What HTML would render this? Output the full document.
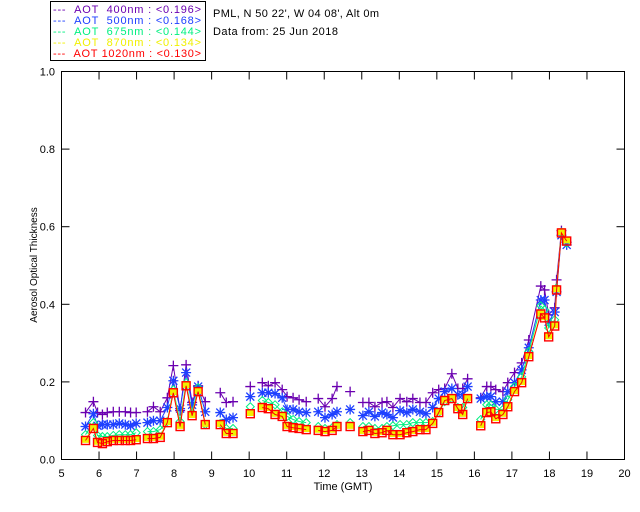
<!DOCTYPE html>
<html><head><meta charset="utf-8"><style>
body{margin:0;background:#fff;}
svg{display:block;font-family:"Liberation Sans",sans-serif;}
</style></head><body>
<svg id="chart" width="640" height="512" viewBox="0 0 640 512">
<g>
<rect x="50.5" y="1.5" width="155" height="59" fill="#fff" stroke="#000"/>
<text x="53" y="13" font-size="11" fill="#6a00b0" textLength="148" lengthAdjust="spacing">--- &#160;AOT &#160;400nm : &lt;0.196&gt;</text>
<text x="53" y="24" font-size="11" fill="#1e40ff" textLength="148" lengthAdjust="spacing">--- &#160;AOT &#160;500nm : &lt;0.168&gt;</text>
<text x="53" y="35" font-size="11" fill="#00f080" textLength="148" lengthAdjust="spacing">--- &#160;AOT &#160;675nm : &lt;0.144&gt;</text>
<text x="53" y="46" font-size="11" fill="#f0f000" textLength="148" lengthAdjust="spacing">--- &#160;AOT &#160;870nm : &lt;0.134&gt;</text>
<text x="53" y="57" font-size="11" fill="#ff0000" textLength="148" lengthAdjust="spacing">--- &#160;AOT 1020nm : &lt;0.130&gt;</text>
</g>
<text x="213" y="17" font-size="11" fill="#000" textLength="166" lengthAdjust="spacing">PML, N 50 22', W 04 08', Alt 0m</text>
<text x="213" y="35" font-size="11" fill="#000" textLength="125" lengthAdjust="spacing">Data from: 25 Jun 2018</text>
<rect x="61.5" y="71.5" width="563" height="388" fill="none" stroke="#000"/>
<text transform="translate(37,265) rotate(-90)" text-anchor="middle" font-size="10" fill="#000">Aerosol Optical Thickness</text>
<text x="343" y="490" text-anchor="middle" font-size="11" fill="#000">Time (GMT)</text>
<g id="axes"></g>
<g id="marks"></g>
</svg>
<script>
const xTicks=[5,6,7,8,9,10,11,12,13,14,15,16,17,18,19,20];
const yTicks=[0.0,0.2,0.4,0.6,0.8,1.0];
const yTickLabels=["0.0","0.2","0.4","0.6","0.8","1.0"];
const times=[5.64,5.85,5.96,6.09,6.22,6.38,6.54,6.70,6.84,6.99,null,
7.29,7.45,7.63,7.82,7.98,8.16,8.32,8.48,8.64,8.83,null,
9.23,9.39,9.57,null,10.03,null,
10.35,10.51,10.69,10.88,11.01,11.17,11.33,11.52,null,
11.84,12.02,12.21,12.34,null,12.69,null,
13.03,13.19,13.35,13.54,13.67,13.83,14.02,14.20,14.36,14.55,14.71,14.89,15.05,15.21,15.40,15.56,15.69,15.82,null,
16.17,16.33,16.44,16.57,16.76,16.89,17.07,17.26,17.45,17.77,17.87,17.98,18.14,18.19,18.32,18.46];
const aot400=[.121,.149,.121,.116,.121,.123,.123,.123,.121,.121,null,
.123,.136,.123,.159,.242,.126,.244,.147,.190,.149,null,
.172,.147,.149,null,.188,null,
.198,.190,.198,.180,.162,.159,.154,.149,null,
.157,.136,.157,.188,null,.175,null,
.147,.147,.136,.147,.149,.134,.157,.149,.157,.147,.147,.172,.180,.183,.221,.183,.183,.208,null,
.159,.188,.188,.180,.175,.198,.224,.249,.308,.447,.437,.373,.391,.463,.590,.560];
const aot500=[.085,.118,.087,.090,.090,.090,.093,.090,.087,.093,null,
.095,.100,.100,.134,.203,.131,.224,.141,.188,.123,null,
.121,.103,.108,null,.162,null,
.172,.172,.170,.159,.129,.129,.123,.121,null,
.123,.108,.116,.123,null,.129,null,
.113,.123,.111,.121,.116,.108,.126,.121,.129,.123,.118,.134,.157,.175,.183,.167,.167,.188,null,
.157,.162,.162,.149,.149,.175,.198,.231,.288,.411,.411,.355,.380,.432,.578,.553];
const aot675=[.064,.095,.062,.059,.059,.062,.064,.064,.064,.069,null,
.072,.072,.077,.098,.180,.098,.198,.121,.185,.090,null,
.093,.080,.080,null,.136,null,
.152,.147,.141,.123,.111,.103,.098,.095,null,
.085,.080,.082,.090,null,.095,null,
.085,.085,.080,.080,.085,.087,.090,.090,.095,.095,.095,.098,.121,.149,.157,.134,.134,.157,null,
.103,.141,.141,.129,.129,.154,.188,.213,.278,.396,.386,.339,.360,.442,.586,.558];
const aot870=[.052,.083,.047,.044,.049,.052,.052,.052,.052,.054,null,
.057,.057,.060,.098,.175,.088,.193,.116,.178,.093,null,
.093,.070,.070,null,.121,null,
.137,.134,.119,.114,.088,.085,.083,.080,null,
.078,.075,.078,.088,null,.088,null,
.075,.078,.070,.072,.078,.067,.067,.072,.075,.080,.080,.096,.124,.155,.160,.134,.119,.160,null,
.090,.124,.126,.108,.119,.139,.178,.201,.268,.378,.368,.319,.347,.440,.587,.566];
const aot1020=[.049,.080,.044,.041,.046,.049,.049,.049,.049,.051,null,
.054,.054,.057,.095,.172,.085,.190,.113,.175,.090,null,
.090,.067,.067,null,.118,null,
.134,.131,.116,.111,.085,.082,.080,.077,null,
.075,.072,.075,.085,null,.085,null,
.072,.075,.067,.069,.075,.064,.064,.069,.072,.077,.077,.093,.121,.152,.157,.131,.116,.157,null,
.087,.121,.123,.105,.116,.136,.175,.198,.265,.375,.365,.316,.344,.437,.584,.563];

const NS="http://www.w3.org/2000/svg";
const X0=61.5,X1=624.5,Y0=459.5,Y1=71.5;
function xs(t){return X0+(t-5)/15*(X1-X0);}
function ys(v){return Y0-v*(Y0-Y1);}
function mk(tag,attrs,parent){const e=document.createElementNS(NS,tag);for(const k in attrs)e.setAttribute(k,attrs[k]);parent.appendChild(e);return e;}
const axes=document.getElementById('axes');
xTicks.forEach((t)=>{
  const x=xs(t);
  const a=mk('line',{x1:x,y1:Y0,x2:x,y2:Y0-8,stroke:'#000'},axes);
  
  
  const b=mk('line',{x1:x,y1:Y1,x2:x,y2:Y1+8,stroke:'#000'},axes);
  
  
  const l=mk('text',{x:x,y:477,'text-anchor':'middle','font-size':11},axes);
  l.textContent=String(t);
  
  
});
yTicks.forEach((v,i)=>{
  const y=ys(v);
  const a=mk('line',{x1:X0,y1:y,x2:X0+8,y2:y,stroke:'#000'},axes);
  
  
  const b=mk('line',{x1:X1,y1:y,x2:X1-8,y2:y,stroke:'#000'},axes);
  
  
  const l=mk('text',{x:55,y:y+4,'text-anchor':'end','font-size':11},axes);
  l.textContent=yTickLabels[i];
  
  
});
const marks=document.getElementById('marks');
const series=[
 {vals:aot400,color:'#6a00b0',m:'plus',name:'400'},
 {vals:aot500,color:'#1e40ff',m:'star',name:'500'},
 {vals:aot675,color:'#00f080',m:'diamond',name:'675'},
 {vals:aot870,color:'#f0f000',m:'fill',name:'870'},
 {vals:aot1020,color:'#ff0000',m:'square',name:'1020'}];
series.forEach(s=>{
  const g=mk('g',{},marks);
  
  
  let d='',pen=false;
  for(let i=0;i<times.length;i++){
    if(times[i]===null||s.vals[i]===null){pen=false;continue;}
    d+=(pen?'L':'M')+xs(times[i]).toFixed(1)+' '+ys(s.vals[i]).toFixed(1);pen=true;
  }
  const p=mk('path',{d:d,fill:'none',stroke:s.color,'stroke-width':1},g);
  
  
  for(let i=0;i<times.length;i++){
    if(times[i]===null||s.vals[i]===null)continue;
    const x=xs(times[i]),y=ys(s.vals[i]);let e;
    if(s.m==='plus'){e=mk('path',{d:`M${x-5} ${y}H${x+5}M${x} ${y-5}V${y+5}`,stroke:s.color,'stroke-width':1.3,fill:'none'},g);}
    else if(s.m==='star'){e=mk('path',{d:`M${x-5} ${y}H${x+5}M${x} ${y-5}V${y+5}M${x-4} ${y-4}L${x+4} ${y+4}M${x-4} ${y+4}L${x+4} ${y-4}`,stroke:s.color,'stroke-width':1.3,fill:'none'},g);}
    else if(s.m==='diamond'){e=mk('path',{d:`M${x} ${y-4}L${x+4} ${y}L${x} ${y+4}L${x-4} ${y}Z`,stroke:s.color,fill:'none'},g);}
    else if(s.m==='fill'){e=mk('rect',{x:x-3.5,y:y-3.5,width:7,height:7,fill:s.color},g);}
    else {e=mk('rect',{x:x-4,y:y-4,width:8,height:8,fill:'none',stroke:s.color,'stroke-width':1.4},g);}
    
    
  }
});
</script>
</body></html>
